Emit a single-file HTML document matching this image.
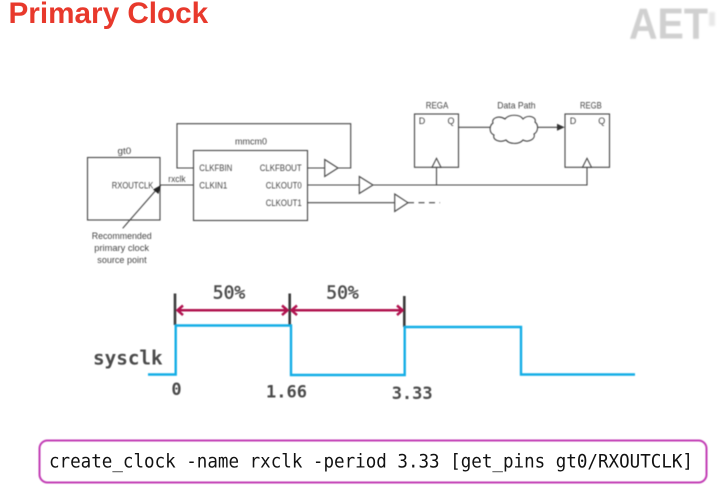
<!DOCTYPE html>
<html>
<head>
<meta charset="utf-8">
<style>
html,body{margin:0;padding:0;background:#fff;}
body{width:717px;height:487px;overflow:hidden;position:relative;}
svg{position:absolute;left:0;top:0;}
.s{font-family:"Liberation Sans",sans-serif;font-size:9px;fill:#444;}
.m{font-family:"DejaVu Sans Mono",monospace;font-weight:bold;fill:#4a4a4a;}
</style>
</head>
<body>
<svg width="717" height="487" viewBox="0 0 717 487" xmlns="http://www.w3.org/2000/svg">
<text x="8.5" y="23" font-family="Liberation Sans,sans-serif" font-weight="bold" font-size="29.7" fill="#e8392c">Primary Clock</text>
<text x="629" y="38.5" font-family="Liberation Sans,sans-serif" font-weight="bold" font-size="44" fill="#d0d0d0" textLength="79" lengthAdjust="spacingAndGlyphs" style="filter:blur(.8px)">AET</text>
<rect x="709" y="12" width="6" height="14" fill="#e8e8e8" style="filter:blur(1px)"/>

<g style="filter:blur(.4px)">
<g fill="none" stroke="#444" stroke-width="1.1">
<rect x="87.5" y="157.5" width="72.5" height="62.5"/>
<rect x="193.5" y="150.5" width="114" height="70"/>
<polyline points="193.5,168 177,168 177,123.7 350.7,123.7 350.7,168 338,168"/>
<line x1="307" y1="168" x2="324.7" y2="168"/>
<polygon points="324.7,159.5 338,168 324.7,176.5" fill="#fff"/>
<line x1="160" y1="185" x2="193.5" y2="185"/>
<line x1="307" y1="185" x2="359.3" y2="185"/>
<polygon points="359.3,176.5 373,185 359.3,193.5" fill="#fff"/>
<polyline points="373,185 587,185 587,167"/>
<line x1="436.5" y1="185" x2="436.5" y2="167"/>
<line x1="307" y1="202.7" x2="394.7" y2="202.7"/>
<polygon points="394.7,194 408,202.7 394.7,211.5" fill="#fff"/>
<line x1="408" y1="202.7" x2="440" y2="202.7" stroke-dasharray="6 4.5"/>
<rect x="414.5" y="114" width="44" height="53.3"/>
<rect x="565" y="114" width="44.5" height="53.3"/>
<polygon points="432,167.3 436.5,158.3 441,167.3" fill="#fff"/>
<polygon points="582.5,167.3 587,158.3 591.5,167.3" fill="#fff"/>
<line x1="458.5" y1="127.3" x2="491" y2="127.3"/>
<line x1="537" y1="127.3" x2="558" y2="127.3"/>
<path d="M493,123 C491,118 499,115 505,119 C509,114 520,114 523,119 C528,114 537,117 535,122 C539,125 538,132 534,134 C536,139 528,143 523,140 C519,145 509,144 506,140 C500,143 492,140 494,135 C489,133 489,126 493,123 Z" fill="#fff"/>
<line x1="122.7" y1="228.3" x2="157" y2="189"/>
</g>
<polygon points="564.7,127.3 557,123.8 557,130.8" fill="#333"/>
<polygon points="161,185 153,189.5 158.5,194" fill="#222"/>

<text class="s" x="117.5" y="154" textLength="13.7" lengthAdjust="spacingAndGlyphs">gt0</text>
<text class="s" x="235" y="144.3" textLength="32" lengthAdjust="spacingAndGlyphs">mmcm0</text>
<text class="s" x="111.7" y="188.3" textLength="41.7" lengthAdjust="spacingAndGlyphs">RXOUTCLK</text>
<text class="s" x="168.3" y="182" textLength="17.3" lengthAdjust="spacingAndGlyphs">rxclk</text>
<text class="s" x="199.3" y="171" textLength="33" lengthAdjust="spacingAndGlyphs">CLKFBIN</text>
<text class="s" x="199.3" y="188.3" textLength="28" lengthAdjust="spacingAndGlyphs">CLKIN1</text>
<text class="s" x="259.7" y="171" textLength="42" lengthAdjust="spacingAndGlyphs">CLKFBOUT</text>
<text class="s" x="265.7" y="188.3" textLength="36" lengthAdjust="spacingAndGlyphs">CLKOUT0</text>
<text class="s" x="265.7" y="206" textLength="36" lengthAdjust="spacingAndGlyphs">CLKOUT1</text>
<text class="s" x="91.7" y="239" textLength="60" lengthAdjust="spacingAndGlyphs">Recommended</text>
<text class="s" x="94.3" y="251" textLength="54.7" lengthAdjust="spacingAndGlyphs">primary clock</text>
<text class="s" x="97.3" y="263" textLength="49.3" lengthAdjust="spacingAndGlyphs">source point</text>
<text class="s" x="425.7" y="108.3" textLength="22.7" lengthAdjust="spacingAndGlyphs">REGA</text>
<text class="s" x="497.3" y="108.3" textLength="38.3" lengthAdjust="spacingAndGlyphs">Data Path</text>
<text class="s" x="580" y="108.3" textLength="21.7" lengthAdjust="spacingAndGlyphs">REGB</text>
<text class="s" x="422" y="124" text-anchor="middle">D</text>
<text class="s" x="451" y="124" text-anchor="middle">Q</text>
<text class="s" x="573" y="124" text-anchor="middle">D</text>
<text class="s" x="601.7" y="124" text-anchor="middle">Q</text>

<g stroke="#3a3a3a" stroke-width="2.6" fill="none">
<line x1="175" y1="293.5" x2="175" y2="325"/>
<line x1="289.7" y1="293.5" x2="289.7" y2="325"/>
<line x1="404.3" y1="296" x2="404.3" y2="327"/>
</g>
<polyline points="148,374.5 175.7,374.5 175.7,325.5 291,325.5 291,375 404.7,375 404.7,327 521,327 521,374.5 635,374.5" fill="none" stroke="#13ade6" stroke-width="2.4"/>
<g stroke="#b0124e" stroke-width="2.5" fill="none">
<line x1="178" y1="310.3" x2="287" y2="310.3"/>
<line x1="292" y1="310.3" x2="402" y2="310.3"/>
<polyline points="183,305.5 177.5,310.3 183,315.1"/>
<polyline points="282,305.5 287.5,310.3 282,315.1"/>
<polyline points="297,305.5 291.5,310.3 297,315.1"/>
<polyline points="397,305.5 402.5,310.3 397,315.1"/>
</g>
<text class="m" x="229" y="298.3" text-anchor="middle" font-size="18" style="font-weight:normal;stroke:#4a4a4a;stroke-width:.4">50%</text>
<text class="m" x="342.5" y="298.3" text-anchor="middle" font-size="18" style="font-weight:normal;stroke:#4a4a4a;stroke-width:.4">50%</text>
<text class="m" x="93" y="364.3" font-size="19.3">sysclk</text>
<text class="m" x="176.5" y="395" text-anchor="middle" font-size="17">0</text>
<text class="m" x="266" y="397.7" font-size="17">1.66</text>
<text class="m" x="391.7" y="399" font-size="17">3.33</text>

<rect x="39.5" y="440.5" width="667" height="42" rx="8" fill="#fff" stroke="#c23cb4" stroke-width="2"/>
</g>
<text x="49" y="467.5" font-family="DejaVu Sans Mono,monospace" font-size="18.5" fill="#111" textLength="644" lengthAdjust="spacingAndGlyphs">create_clock -name rxclk -period 3.33 [get_pins gt0/RXOUTCLK]</text>
</svg>
</body>
</html>
